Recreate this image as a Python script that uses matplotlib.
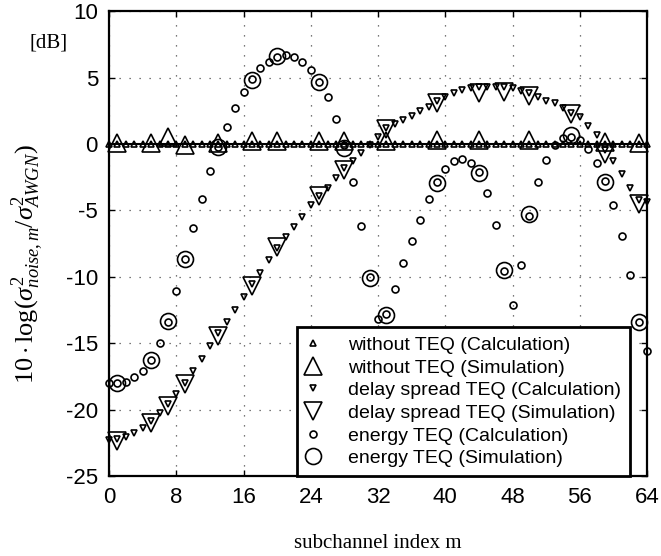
import numpy as np
import matplotlib
matplotlib.use("Agg")
import matplotlib.pyplot as plt

plt.rcParams["font.family"] = ["Liberation Sans", "DejaVu Sans"]
plt.rcParams["mathtext.fontset"] = "custom"
plt.rcParams["mathtext.rm"] = "Liberation Serif"
plt.rcParams["mathtext.it"] = "Liberation Serif:italic"
plt.rcParams["axes.unicode_minus"] = False

# subchannel indices
m_calc = np.arange(65)
m_sim_noteq = [1, 5, 7, 9, 13, 17, 20, 25, 28, 33, 39, 44, 50, 59, 63]
m_sim_delay = [1, 5, 7, 9, 13, 17, 20, 25, 28, 33, 39, 44, 47, 50, 55, 59, 63]
m_sim_energy = [1, 5, 7, 9, 13, 17, 20, 25, 28, 31, 33, 39, 44, 47, 50, 55, 59, 63]

# without TEQ
noteq_calc = [0.0] * 65
noteq_sim = [0.1, 0.1, 0.55, -0.1, 0.1, 0.25, 0.25, 0.2, 0.25, 0.2, 0.3, 0.3, 0.3, 0.15, 0.05]

# delay spread TEQ
delay_calc = [-22.3, -22.2, -22.05, -21.75, -21.4, -20.85, -20.25, -19.55, -18.8, -18.0,
              -17.1, -16.2, -15.2, -14.25, -13.4, -12.5, -11.55, -10.55, -9.75, -8.75,
              -7.8, -7.0, -6.25, -5.5, -4.6, -3.9, -3.3, -2.6, -1.8, -1.25,
              -0.65, -0.05, 0.5, 1.2, 1.5, 1.8, 2.1, 2.5, 2.8, 3.2,
              3.55, 3.8, 4.05, 4.2, 4.25, 4.25, 4.3, 4.3, 4.2, 3.95,
              3.8, 3.5, 3.25, 3.05, 2.7, 2.35, 2.05, 1.35, 0.65, -0.45,
              -1.25, -2.3, -3.35, -4.2, -4.35]
delay_sim = [-22.4, -21.0, -19.7, -18.1, -14.45, -10.7, -7.75, -3.95, -1.95,
             1.1, 3.1, 3.85, 3.9, 3.6, 2.25, -0.75, -4.55]

# energy TEQ
energy_calc = [-18.0, -18.0, -17.9, -17.55, -17.1, -16.3, -15.0, -13.4, -11.05, -8.7,
               -6.35, -4.15, -2.05, -0.2, 1.3, 2.7, 3.9, 4.9, 5.7, 6.2,
               6.55, 6.7, 6.55, 6.2, 5.6, 4.7, 3.5, 1.85, -0.1, -2.85,
               -6.15, -10.0, -13.2, -12.8, -10.9, -9.0, -7.3, -5.7, -4.15, -2.85,
               -1.9, -1.3, -1.1, -1.4, -2.1, -3.7, -6.1, -9.6, -12.1, -9.1,
               -5.4, -2.9, -1.2, -0.1, 0.45, 0.55, 0.3, -0.4, -1.4, -2.8,
               -4.6, -6.95, -9.85, -13.4, -15.6]
energy_sim = [-18.0, -16.3, -13.3, -8.7, -0.25, 4.8, 6.65, 4.65, -0.3, -10.1,
              -12.85, -2.95, -2.2, -9.5, -5.3, 0.65, -2.85, -13.4]

fig = plt.figure(figsize=(6.61, 5.56), dpi=100)
ax = fig.add_axes([0.165, 0.144, 0.814, 0.836])

ax.axhline(0, color="black", lw=1.5, zorder=2)

kw = dict(linestyle="none", color="black", markerfacecolor="none", mew=1.2, clip_on=False, zorder=3)
ax.plot(m_calc, noteq_calc, marker="^", ms=5, label="without TEQ (Calculation)", **kw)
ax.plot(m_sim_noteq, noteq_sim, marker="^", ms=13, label="without TEQ (Simulation)", **kw)
ax.plot(m_calc, delay_calc, marker="v", ms=5, label="delay spread TEQ (Calculation)", **kw)
ax.plot(m_sim_delay, delay_sim, marker="v", ms=13, label="delay spread TEQ (Simulation)", **kw)
ax.plot(m_calc, energy_calc, marker="o", ms=5, label="energy TEQ (Calculation)", **kw)
ax.plot(m_sim_energy, energy_sim, marker="o", ms=11.5, label="energy TEQ (Simulation)", **kw)

ax.set_xlim(0, 64)
ax.set_ylim(-25, 10)
ax.set_xticks(range(0, 65, 8))
ax.set_yticks(range(-25, 11, 5))
ax.tick_params(direction="in", length=4, width=1, labelsize=16, top=True, right=True, pad=8)
ax.grid(True, color="0.3", lw=0.9, linestyle=(0, (1, 7)))
for s in ax.spines.values():
    s.set_linewidth(1.6)

ax.set_xlabel("subchannel index m", fontsize=15, family="Liberation Serif")
ax.xaxis.set_label_coords(0.5, -0.125)
ax.set_ylabel(r"$10\cdot\log(\sigma^2_{noise,m}/\sigma^2_{AWGN})$", fontsize=19)
ax.yaxis.set_label_coords(-0.118, 0.455)
fig.text(0.074, 0.923, "[dB]", fontsize=15, family="Liberation Serif", ha="center", va="center")

leg = ax.legend(loc="lower left", bbox_to_anchor=(0.349, 0.0), borderaxespad=0,
                fontsize=14, frameon=True, fancybox=False, framealpha=1,
                edgecolor="black", labelspacing=0.26, handletextpad=1.43,
                borderpad=0.45, handlelength=0.75)
leg.get_frame().set_linewidth(2)

fig.savefig("out.png", dpi=100)
